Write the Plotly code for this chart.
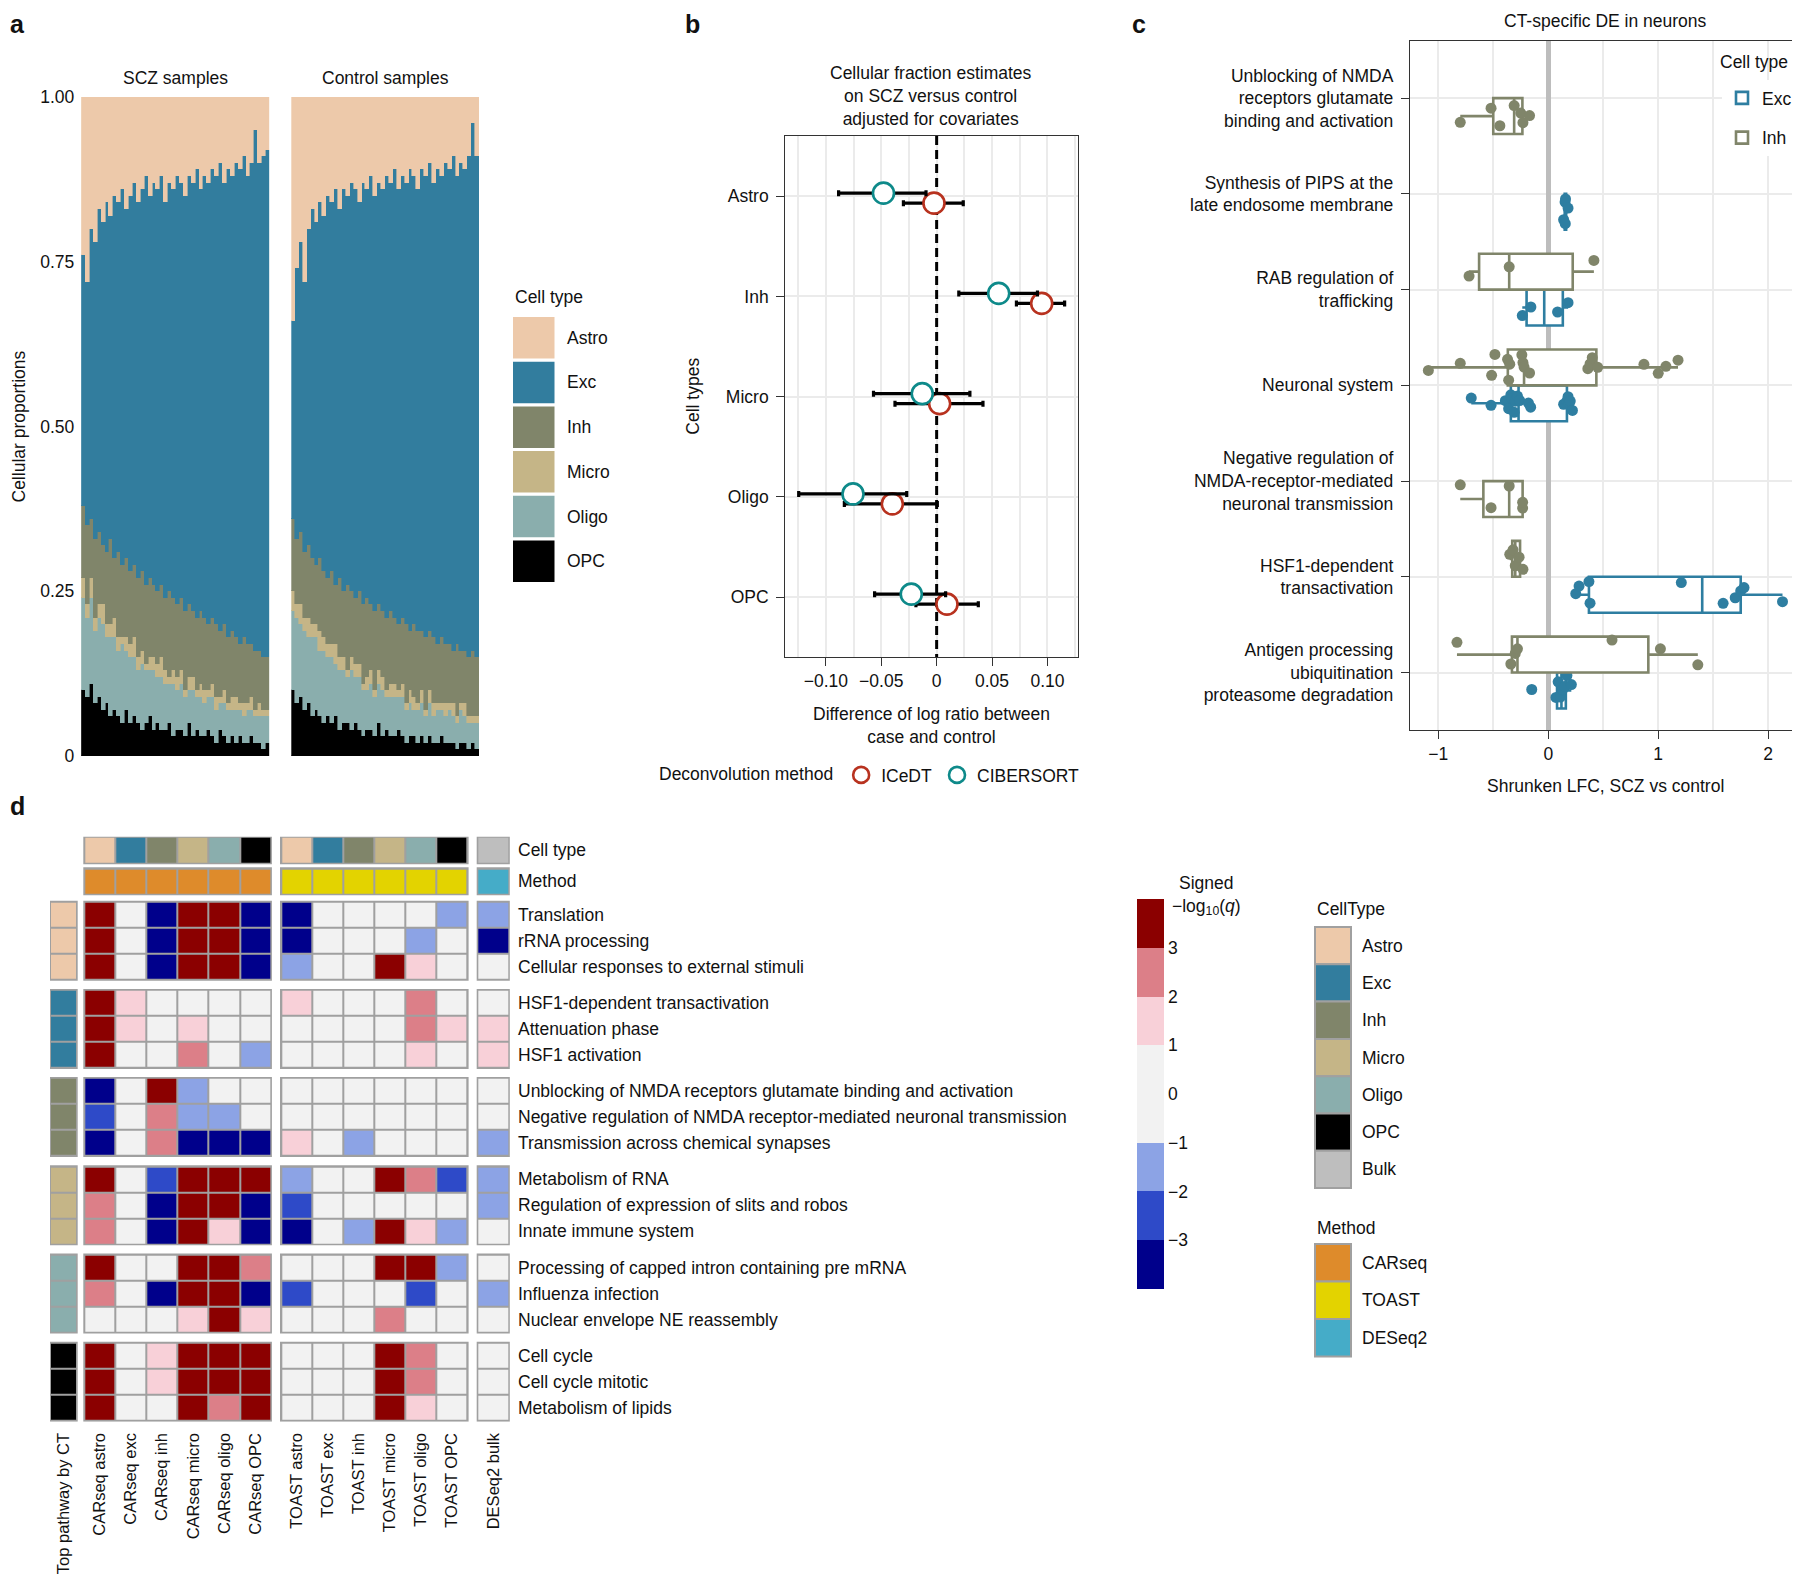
import plotly.graph_objects as go

OFF = 8                       # browser body margin (page px = figure px + 8)
FW, FH = 1800, 1586
FONT = "Liberation Sans, Arial, Helvetica, sans-serif"
INK = "#111111"
FS = 17.5


def fx(px):
    return (px - OFF) / FW


def fy(py):
    return 1 - (py - OFF) / FH


# ====================== Panel a data ======================
cell_types = ["Astro", "Exc", "Inh", "Micro", "Oligo", "OPC"]
ct_colors = ["#EDC9AA", "#327D9E", "#80856A", "#C5B587", "#8AAEAD", "#000000"]

scz_astro = [0.24, 0.28, 0.20, 0.22, 0.17, 0.19, 0.16, 0.18, 0.15, 0.16, 0.14, 0.17, 0.15, 0.13, 0.16, 0.14,
             0.12, 0.15, 0.13, 0.14, 0.12, 0.16, 0.13, 0.14, 0.12, 0.13, 0.15, 0.12, 0.13, 0.11, 0.14, 0.12,
             0.13, 0.11, 0.12, 0.10, 0.13, 0.11, 0.12, 0.10, 0.11, 0.09, 0.12, 0.10, 0.05, 0.10, 0.09, 0.08]
scz_inh = [0.11, 0.12, 0.09, 0.12, 0.11, 0.09, 0.11, 0.13, 0.09, 0.13, 0.11, 0.12, 0.11, 0.11, 0.12, 0.12,
           0.12, 0.12, 0.11, 0.11, 0.11, 0.11, 0.13, 0.11, 0.11, 0.11, 0.12, 0.11, 0.10, 0.11, 0.11, 0.11,
           0.10, 0.10, 0.11, 0.10, 0.10, 0.10, 0.10, 0.09, 0.09, 0.10, 0.09, 0.08, 0.09, 0.08, 0.08, 0.08]
scz_micro = [0.03, 0.02, 0.03, 0.02, 0.02, 0.03, 0.02, 0.02, 0.03, 0.02, 0.01, 0.02, 0.02, 0.03, 0.02, 0.02,
             0.01, 0.02, 0.02, 0.02, 0.03, 0.02, 0.01, 0.02, 0.02, 0.02, 0.01, 0.02, 0.02, 0.01, 0.02, 0.02,
             0.01, 0.02, 0.02, 0.01, 0.02, 0.01, 0.02, 0.02, 0.01, 0.02, 0.01, 0.02, 0.01, 0.02, 0.01, 0.01]
scz_oligo = [0.14, 0.12, 0.13, 0.11, 0.12, 0.13, 0.10, 0.12, 0.11, 0.10, 0.12, 0.09, 0.10, 0.09, 0.08, 0.10,
             0.08, 0.07, 0.09, 0.07, 0.08, 0.07, 0.06, 0.08, 0.06, 0.07, 0.06, 0.05, 0.07, 0.05, 0.06, 0.05,
             0.05, 0.06, 0.05, 0.04, 0.05, 0.05, 0.04, 0.05, 0.04, 0.04, 0.05, 0.04, 0.04, 0.04, 0.05, 0.04]
scz_opc = [0.10, 0.09, 0.11, 0.08, 0.09, 0.07, 0.08, 0.06, 0.07, 0.06, 0.05, 0.07, 0.05, 0.06, 0.05, 0.04,
           0.05, 0.06, 0.04, 0.05, 0.04, 0.04, 0.05, 0.03, 0.04, 0.04, 0.03, 0.05, 0.03, 0.04, 0.03, 0.03,
           0.04, 0.03, 0.02, 0.04, 0.03, 0.02, 0.03, 0.02, 0.03, 0.02, 0.02, 0.03, 0.02, 0.02, 0.01, 0.02]

ctl_astro = [0.34, 0.26, 0.22, 0.28, 0.20, 0.17, 0.19, 0.16, 0.18, 0.15, 0.16, 0.14, 0.17, 0.14, 0.15, 0.13,
             0.14, 0.16, 0.13, 0.14, 0.12, 0.15, 0.13, 0.14, 0.12, 0.13, 0.11, 0.14, 0.12, 0.13, 0.11, 0.12,
             0.14, 0.11, 0.12, 0.10, 0.13, 0.11, 0.12, 0.10, 0.11, 0.09, 0.12, 0.10, 0.11, 0.09, 0.04, 0.09]
ctl_inh = [0.11, 0.10, 0.11, 0.10, 0.11, 0.10, 0.09, 0.11, 0.10, 0.10, 0.11, 0.09, 0.12, 0.10, 0.13, 0.10,
           0.10, 0.11, 0.12, 0.12, 0.10, 0.12, 0.10, 0.10, 0.11, 0.11, 0.10, 0.10, 0.10, 0.12, 0.09, 0.11,
           0.11, 0.09, 0.11, 0.09, 0.10, 0.09, 0.10, 0.09, 0.09, 0.08, 0.11, 0.08, 0.08, 0.09, 0.10, 0.09]
ctl_micro = [0.03, 0.02, 0.03, 0.02, 0.03, 0.02, 0.02, 0.03, 0.02, 0.02, 0.02, 0.03, 0.02, 0.02, 0.01, 0.02,
             0.02, 0.02, 0.01, 0.02, 0.02, 0.01, 0.02, 0.02, 0.01, 0.02, 0.02, 0.01, 0.02, 0.01, 0.02, 0.02,
             0.01, 0.02, 0.01, 0.02, 0.02, 0.01, 0.01, 0.02, 0.01, 0.02, 0.01, 0.01, 0.02, 0.01, 0.01, 0.01]
ctl_oligo = [0.12, 0.13, 0.11, 0.12, 0.10, 0.12, 0.11, 0.10, 0.11, 0.09, 0.10, 0.08, 0.09, 0.08, 0.07, 0.09,
             0.07, 0.08, 0.07, 0.06, 0.07, 0.06, 0.06, 0.07, 0.05, 0.06, 0.06, 0.05, 0.06, 0.05, 0.05, 0.04,
             0.05, 0.05, 0.04, 0.05, 0.04, 0.05, 0.04, 0.04, 0.05, 0.04, 0.04, 0.05, 0.04, 0.04, 0.03, 0.04]
ctl_opc = [0.10, 0.08, 0.09, 0.07, 0.08, 0.06, 0.07, 0.06, 0.05, 0.06, 0.05, 0.06, 0.04, 0.05, 0.05, 0.04,
           0.05, 0.04, 0.03, 0.04, 0.04, 0.03, 0.05, 0.03, 0.04, 0.03, 0.03, 0.04, 0.03, 0.02, 0.03, 0.03,
           0.02, 0.03, 0.02, 0.03, 0.02, 0.02, 0.03, 0.02, 0.02, 0.02, 0.01, 0.02, 0.02, 0.01, 0.02, 0.01]


def remainder(*parts):
    return [round(1 - sum(v), 3) for v in zip(*parts)]


scz_exc = remainder(scz_astro, scz_inh, scz_micro, scz_oligo, scz_opc)
ctl_exc = remainder(ctl_astro, ctl_inh, ctl_micro, ctl_oligo, ctl_opc)

# ====================== Panel b data ======================
b_celltypes = ["Astro", "Inh", "Micro", "Oligo", "OPC"]
icedt_est = [-0.0024, 0.0948, 0.0027, -0.0400, 0.0093]
icedt_lo = [-0.0300, 0.0720, -0.0376, -0.0833, -0.0187]
icedt_hi = [0.0240, 0.1155, 0.0418, 0.0006, 0.0376]
cib_est = [-0.0480, 0.0560, -0.0130, -0.0755, -0.0229]
cib_lo = [-0.0885, 0.0200, -0.0570, -0.1245, -0.0560]
cib_hi = [-0.0096, 0.0910, 0.0300, -0.0270, 0.0081]

# ====================== Panel c data ======================
c_pathways = ["Unblocking of NMDA<br>receptors glutamate<br>binding and activation",
              "Synthesis of PIPS at the<br>late endosome membrane",
              "RAB regulation of<br>trafficking",
              "Neuronal system",
              "Negative regulation of<br>NMDA-receptor-mediated<br>neuronal transmission",
              "HSF1-dependent<br>transactivation",
              "Antigen processing<br>ubiquitination<br>proteasome degradation"]
c_unblock_inh = [-0.80, -0.52, -0.44, -0.31, -0.25, -0.23, -0.17]
c_pips_exc = [0.14, 0.153, 0.155, 0.157, 0.18]
c_rab_inh = [-0.72, -0.355, 0.415]
c_rab_exc = [-0.236, -0.158, 0.085, 0.18]
c_neuro_inh = [-1.09, -0.80, -0.515, -0.485, -0.37, -0.36, -0.35, -0.24, -0.23, -0.22, -0.17,
               0.36, 0.38, 0.40, 0.45, 0.87, 1.00, 1.07, 1.18]
c_neuro_exc = [-0.70, -0.52, -0.39, -0.36, -0.34, -0.33, -0.31, -0.30, -0.28, -0.26, -0.18, -0.16,
               0.14, 0.17, 0.18, 0.19, 0.20, 0.22]
c_negreg_inh = [-0.80, -0.52, -0.355, -0.233, -0.233]
c_hsf1_inh = [-0.35, -0.32, -0.30, -0.265, -0.23]
c_hsf1_exc = [0.25, 0.28, 0.37, 0.38, 1.21, 1.59, 1.70, 1.75, 1.78, 2.13]
c_antigen_inh = [-0.83, -0.34, -0.30, -0.28, 0.58, 1.02, 1.36]
c_antigen_exc = [-0.15, 0.07, 0.09, 0.11, 0.13, 0.15, 0.17, 0.21]
c_inh = [c_unblock_inh, [], c_rab_inh, c_neuro_inh, c_negreg_inh, c_hsf1_inh, c_antigen_inh]
c_exc = [[], c_pips_exc, c_rab_exc, c_neuro_exc, [], c_hsf1_exc, c_antigen_exc]

# ====================== Panel d data ======================
d_columns = ["CARseq astro", "CARseq exc", "CARseq inh", "CARseq micro", "CARseq oligo", "CARseq OPC",
             "TOAST astro", "TOAST exc", "TOAST inh", "TOAST micro", "TOAST oligo", "TOAST OPC",
             "DESeq2 bulk"]
d_col_celltype = ["Astro", "Exc", "Inh", "Micro", "Oligo", "OPC",
                  "Astro", "Exc", "Inh", "Micro", "Oligo", "OPC", "Bulk"]
d_col_method = ["CARseq"] * 6 + ["TOAST"] * 6 + ["DESeq2"]
d_group_celltype = ["Astro", "Exc", "Inh", "Micro", "Oligo", "OPC"]
d_pathways = ["Translation", "rRNA processing", "Cellular responses to external stimuli",
              "HSF1-dependent transactivation", "Attenuation phase", "HSF1 activation",
              "Unblocking of NMDA receptors glutamate binding and activation",
              "Negative regulation of NMDA receptor-mediated neuronal transmission",
              "Transmission across chemical synapses",
              "Metabolism of RNA", "Regulation of expression of slits and robos", "Innate immune system",
              "Processing of capped intron containing pre mRNA", "Influenza infection",
              "Nuclear envelope NE reassembly",
              "Cell cycle", "Cell cycle mitotic", "Metabolism of lipids"]
d_astro_rows = [[3.8, 0.2, -3.9, 3.7, 3.6, -3.8, -3.6, 0.3, -0.2, 0.4, -0.5, -1.4, -1.6],
                [3.7, 0.1, -3.8, 3.8, 3.5, -3.7, -3.5, 0.2, -0.3, 0.1, -1.5, 0.4, -3.6],
                [3.6, 0.3, -3.7, 3.6, 3.7, -3.6, -1.6, 0.1, 0.2, 3.4, 1.4, 0.3, 0.5]]
d_exc_rows = [[3.9, 1.5, 0.4, 0.6, 0.2, 0.3, 1.3, 0.2, 0.1, -0.3, 2.4, 0.5, 0.7],
              [3.8, 1.4, 0.3, 1.6, 0.5, 0.2, 0.6, 0.3, 0.2, 0.1, 2.6, 1.5, 1.3],
              [3.7, 0.6, 0.2, 2.5, 0.4, -1.4, 0.5, 0.1, 0.3, 0.2, 1.5, 0.4, 1.4]]
d_inh_rows = [[-3.6, 0.1, 3.5, -1.5, 0.3, -0.4, 0.2, -0.1, 0.3, 0.1, 0.4, 0.2, 0.3],
              [-2.6, 0.2, 2.4, -1.6, -1.3, -0.5, 0.1, 0.2, -0.3, 0.4, 0.1, 0.3, -0.2],
              [-3.7, 0.3, 2.5, -3.6, -3.8, -3.5, 1.3, 0.2, -1.5, 0.3, 0.5, 0.1, -1.4]]
d_micro_rows = [[3.8, 0.2, -2.6, 3.7, 3.6, 3.5, -1.5, 0.1, 0.4, 3.6, 2.5, -2.4, -1.5],
                [2.5, 0.3, -3.7, 3.8, 3.7, -3.6, -2.6, 0.2, 0.1, 0.5, 0.3, 0.2, -1.6],
                [2.4, 0.1, -3.6, 3.5, 1.5, -3.7, -3.8, 0.3, -1.4, 3.7, 1.6, -1.5, 0.2]]
d_oligo_rows = [[3.7, 0.2, 0.5, 3.8, 3.6, 2.5, 0.1, 0.4, 0.2, 3.5, 3.6, -1.6, 0.3],
                [2.6, 0.3, -3.8, 3.7, 3.8, -3.6, -2.5, 0.2, 0.1, 0.4, -2.6, 0.3, -1.4],
                [0.4, 0.2, 0.3, 1.5, 3.6, 1.4, 0.2, 0.1, 0.3, 2.5, 0.4, 0.2, 0.1]]
d_opc_rows = [[3.8, 0.1, 1.6, 3.7, 3.8, 3.6, 0.3, 0.2, 0.1, 3.7, 2.4, 0.5, 0.2],
              [3.7, 0.3, 1.5, 3.8, 3.7, 3.7, 0.2, 0.4, 0.2, 3.6, 2.5, 0.3, 0.1],
              [3.6, 0.2, 0.4, 3.7, 2.6, 3.5, 0.1, 0.3, 0.2, 3.8, 1.5, 0.2, 0.4]]
d_groups = [d_astro_rows, d_exc_rows, d_inh_rows, d_micro_rows, d_oligo_rows, d_opc_rows]
method_names = ["CARseq", "TOAST", "DESeq2"]
method_colors = ["#DE8B2B", "#E3D300", "#45ACC8"]
bulk_color = "#BEBEBE"
sig_colors = ["#00008B", "#2E4AC8", "#8CA3E5", "#F2F2F2", "#F8D0D8", "#DC7F88", "#8B0000"]
sig_breaks = [-4, -3, -2, -1, 1, 2, 3, 4]

fig = go.Figure()
shapes = []
annots = []


def ann(text, x, y, size=FS, xanchor="center", yanchor="middle", angle=0, bold=False, color=INK):
    annots.append(dict(text=("<b>%s</b>" % text) if bold else text, x=fx(x), y=fy(y), xref="paper",
                       yref="paper", showarrow=False, xanchor=xanchor, yanchor=yanchor, textangle=angle,
                       font=dict(family=FONT, size=size, color=color)))


# ====================== Panel a ======================
scz = dict(Astro=scz_astro, Exc=scz_exc, Inh=scz_inh, Micro=scz_micro, Oligo=scz_oligo, OPC=scz_opc)
ctl = dict(Astro=ctl_astro, Exc=ctl_exc, Inh=ctl_inh, Micro=ctl_micro, Oligo=ctl_oligo, OPC=ctl_opc)
stack_order = ["OPC", "Oligo", "Micro", "Inh", "Exc", "Astro"]
for xa, ya, grp in [("x", "y", scz), ("x2", "y2", ctl)]:
    for ct in stack_order:
        col = ct_colors[cell_types.index(ct)]
        fig.add_trace(go.Bar(x=list(range(len(grp[ct]))), y=grp[ct], xaxis=xa, yaxis=ya,
                             marker=dict(color=col, line=dict(width=0.6, color=col)),
                             showlegend=False, hoverinfo="skip"))

ann("SCZ samples", 175.3, 77.7)
ann("Control samples", 385.3, 77.7)
ann("Cellular proportions", 19, 426.5, angle=-90)
ann("Cell type", 513, 297, xanchor="left")
for i, ct in enumerate(cell_types):
    top = 317 + i * 44.7
    shapes.append(dict(type="rect", xref="paper", yref="paper", x0=fx(513), x1=fx(554.5), y0=fy(top + 41.5),
                       y1=fy(top), fillcolor=ct_colors[i], line=dict(width=0)))
    ann(ct, 565, top + 20.7, xanchor="left")

# ====================== Panel b ======================
b_pos = list(range(1, len(b_celltypes) + 1))
# reference line at zero (drawn first so that it lies under the points)
fig.add_trace(go.Scatter(x=[0, 0], y=[0.4, len(b_celltypes) + 0.6], mode="lines", xaxis="x3", yaxis="y3",
                         line=dict(color="black", width=3, dash="9px,5px"), showlegend=False, hoverinfo="skip"))
for name, est, lo, hi, col, off in [("ICeDT", icedt_est, icedt_lo, icedt_hi, "#B8321F", 0.07),
                                    ("CIBERSORT", cib_est, cib_lo, cib_hi, "#0E8A8A", -0.03)]:
    fig.add_trace(go.Scatter(
        x=est, y=[p + off for p in b_pos], mode="markers", name=name, xaxis="x3", yaxis="y3",
        marker=dict(symbol="circle", size=21, color="white", line=dict(color=col, width=2.6)),
        error_x=dict(type="data", symmetric=False, array=[h - e for h, e in zip(hi, est)],
                     arrayminus=[e - l for e, l in zip(est, lo)], color="black", thickness=3.2, width=3),
        legend="legend", hoverinfo="skip"))

ann("Cellular fraction estimates<br>on SCZ versus control<br>adjusted for covariates", 931.3, 96)
ann("Cell types", 693, 396.7, angle=-90)
ann("Difference of log ratio between<br>case and control", 931.3, 725.5)

# ====================== Panel c ======================
c_colors = {"Exc": "#2E7EA1", "Inh": "#80856A"}
for ct, series, other in [("Exc", c_exc, c_inh), ("Inh", c_inh, c_exc)]:
    xs, ys = [], []
    for k, vals in enumerate(series):
        if not vals:
            continue
        slot = 1 if (ct == "Exc" or not other[k]) else -1
        xs += vals
        ys += [k + 1 + slot * 0.1875] * len(vals)
    fig.add_trace(go.Box(
        x=xs, y=ys, orientation="h", name=ct, xaxis="x4", yaxis="y4", width=0.375,
        boxpoints="all", jitter=0.85, pointpos=0, whiskerwidth=0, fillcolor="white",
        line=dict(color=c_colors[ct], width=2.6), marker=dict(color=c_colors[ct], size=11, opacity=1),
        legend="legend2", legendgroup=ct, hoverinfo="skip"))
ann("CT-specific DE in neurons", 1605, 21)
ann("Shrunken LFC, SCZ vs control", 1605, 786)
ann("Cell type", 1718, 62, xanchor="left")

# ====================== Panel d ======================
UX, UY = 31.1, 26.0
TP = (0.0, 26.7)
CAR0, TOAST0, DES0 = 34.3, 231.0, 427.7
GROUP0, GPITCH = 65.0, 88.2
x_edges = [CAR0 + i * UX for i in range(7)] + [TOAST0 + i * UX for i in range(7)] + [DES0, DES0 + UX]
y_edges = []
for g in range(len(d_groups)):
    s = GROUP0 + g * GPITCH
    y_edges += [s + i * UY for i in range(4)]
y_edges_ann = [0.0, 26.6, 31.6, 57.6]


def split_row(vals):
    return list(vals[:6]) + [None] + list(vals[6:12]) + [None] + list(vals[12:])


z_main = []
for g, rows in enumerate(d_groups):
    for r in rows:
        z_main.append(split_row(r))
    if g < len(d_groups) - 1:
        z_main.append([None] * 15)
z_main_edges_y = y_edges[:len(z_main) + 1]


def discrete(colors, breaks=None):
    n = len(colors)
    if breaks is None:
        breaks = list(range(n + 1))
    lo, hi = breaks[0], breaks[-1]
    sc = []
    for i, c in enumerate(colors):
        sc.append([(breaks[i] - lo) / (hi - lo), c])
        sc.append([(breaks[i + 1] - lo) / (hi - lo), c])
    return sc


fig.add_trace(go.Heatmap(
    z=z_main, x=x_edges, y=z_main_edges_y, xaxis="x5", yaxis="y5", zmin=-4, zmax=4,
    colorscale=discrete(sig_colors, sig_breaks), xgap=2, ygap=2, hoverinfo="skip",
    colorbar=dict(x=fx(1137), xanchor="left", y=fy(1289), yanchor="bottom", len=390, lenmode="pixels",
                  thickness=27, thicknessmode="pixels", xpad=0, ypad=0, outlinewidth=0,
                  tickvals=[3, 2, 1, 0, -1, -2, -3],
                  ticktext=["3", "2", "1", "0", "\u22121", "\u22122", "\u22123"],
                  ticks="", tickfont=dict(family=FONT, size=FS, color=INK))))

ann_palette = [ct_colors[i] for i in range(6)] + [bulk_color] + method_colors
ann_cats = cell_types + ["Bulk"] + method_names
ct_row = [ann_cats.index(c) for c in d_col_celltype]
me_row = [ann_cats.index(m) for m in d_col_method]
fig.add_trace(go.Heatmap(
    z=[split_row(ct_row), [None] * 15, split_row(me_row)], x=x_edges, y=y_edges_ann, xaxis="x5", yaxis="y5",
    zmin=-0.5, zmax=len(ann_cats) - 0.5, colorscale=discrete(ann_palette), showscale=False,
    xgap=2, ygap=2, hoverinfo="skip"))

z_tp = []
for g, ct in enumerate(d_group_celltype):
    z_tp += [[cell_types.index(ct)]] * 3
    if g < len(d_groups) - 1:
        z_tp.append([None])
fig.add_trace(go.Heatmap(
    z=z_tp, x=list(TP), y=z_main_edges_y, xaxis="x5", yaxis="y5", zmin=-0.5, zmax=len(ann_cats) - 0.5,
    colorscale=discrete(ann_palette), showscale=False, xgap=2, ygap=2, hoverinfo="skip"))

# gray block borders
PAD = 1.0
col_blocks = [(CAR0, CAR0 + 6 * UX), (TOAST0, TOAST0 + 6 * UX), (DES0, DES0 + UX)]
row_blocks = [(0.0, 26.6), (31.6, 57.6)] + [(GROUP0 + g * GPITCH, GROUP0 + g * GPITCH + 3 * UY)
                                            for g in range(len(d_groups))]
for (xa0, xa1) in col_blocks:
    for (ya0, ya1) in row_blocks:
        shapes.append(dict(type="rect", xref="x5", yref="y5", x0=xa0 - PAD, x1=xa1 + PAD, y0=ya0 - PAD,
                           y1=ya1 + PAD, fillcolor="#A0A0A0", line=dict(width=0), layer="below"))
for (ya0, ya1) in row_blocks[2:]:
    shapes.append(dict(type="rect", xref="x5", yref="y5", x0=TP[0] - PAD, x1=TP[1] + PAD, y0=ya0 - PAD,
                       y1=ya1 + PAD, fillcolor="#A0A0A0", line=dict(width=0), layer="below"))

row_centers = [(y_edges_ann[0] + y_edges_ann[1]) / 2, (y_edges_ann[2] + y_edges_ann[3]) / 2]
for g in range(len(d_groups)):
    s = GROUP0 + g * GPITCH
    row_centers += [s + (i + 0.5) * UY for i in range(3)]
col_centers = [(TP[0] + TP[1]) / 2] + [(a + b) / 2 for a, b in zip(x_edges[:-1], x_edges[1:])
                                       if not (a == CAR0 + 6 * UX or a == TOAST0 + 6 * UX)]

# color key title
ann("Signed<br>\u2212log<sub>10</sub>(<i>q</i>)", 1170, 895, xanchor="left")
# CellType legend
ann("CellType", 1315, 909, xanchor="left")
for i, (name, col) in enumerate(zip(cell_types + ["Bulk"], [ct_colors[k] for k in range(6)] + [bulk_color])):
    top = 927 + i * 37.3
    shapes.append(dict(type="rect", xref="paper", yref="paper", x0=fx(1315), x1=fx(1351), y0=fy(top + 37.3),
                       y1=fy(top), fillcolor=col, line=dict(width=2, color="#A0A0A0")))
    ann(name, 1360, top + 18.6, xanchor="left")
ann("Method", 1315, 1228, xanchor="left")
for i, (name, col) in enumerate(zip(method_names, method_colors)):
    top = 1244 + i * 37.5
    shapes.append(dict(type="rect", xref="paper", yref="paper", x0=fx(1315), x1=fx(1351), y0=fy(top + 37.5),
                       y1=fy(top), fillcolor=col, line=dict(width=2, color="#A0A0A0")))
    ann(name, 1360, top + 18.7, xanchor="left")

# panel letters
ann("a", OFF, OFF, size=25, xanchor="left", yanchor="top", bold=True)
ann("b", 683, OFF, size=25, xanchor="left", yanchor="top", bold=True)
ann("c", 1130, OFF, size=25, xanchor="left", yanchor="top", bold=True)
ann("d", OFF, 806, size=25, xanchor="left", bold=True)

# ====================== layout ======================
tickfont = dict(family=FONT, size=FS, color=INK)
GRID = "#EBEBEB"
frame = dict(showline=True, mirror=True, linecolor="#333333", linewidth=1.3, ticks="outside", ticklen=8,
             tickwidth=1.2, tickcolor="#333333", tickfont=tickfont)
NOAM = dict(automargin=False)

fig.update_layout(
    template="none",
    width=FW, height=FH, autosize=False, margin=dict(l=0, r=0, t=0, b=0, pad=0),
    paper_bgcolor="white", plot_bgcolor="white",
    font=dict(family=FONT, size=FS, color=INK), barmode="stack", bargap=0, boxmode="overlay",
    shapes=shapes, annotations=annots,
    xaxis=dict(domain=[fx(81.3), fx(269.3)], range=[-0.5, 47.5], anchor="y", showticklabels=False,
               showgrid=False, zeroline=False, ticks="", showline=False, **NOAM),
    yaxis=dict(domain=[fy(756), fy(97)], range=[0, 1], anchor="x", tickvals=[0, 0.25, 0.5, 0.75, 1],
               ticktext=["0", "0.25", "0.50", "0.75", "1.00"], showgrid=False, zeroline=False, ticks="",
               showline=False, tickfont=tickfont, ticklabelstandoff=6, **NOAM),
    xaxis2=dict(domain=[fx(291.3), fx(479.3)], range=[-0.5, 47.5], anchor="y2", showticklabels=False,
                showgrid=False, zeroline=False, ticks="", showline=False, **NOAM),
    yaxis2=dict(domain=[fy(756), fy(97)], range=[0, 1], anchor="x2", showticklabels=False, showgrid=False,
                zeroline=False, ticks="", showline=False, **NOAM),
    xaxis3=dict(domain=[fx(785.3), fx(1077.7)], range=[-0.1366, 0.1273], anchor="y3",
                tickvals=[-0.1, -0.05, 0, 0.05, 0.1],
                ticktext=["\u22120.10", "\u22120.05", "0", "0.05", "0.10"], showgrid=True, gridcolor=GRID,
                gridwidth=2, zeroline=False,
                minor=dict(tickvals=[-0.125, -0.075, -0.025, 0.025, 0.075, 0.125], showgrid=True,
                           gridcolor=GRID, gridwidth=1.5, ticks=""), **frame, **NOAM),
    yaxis3=dict(domain=[fy(657.3), fy(136)], range=[5.6, 0.4], anchor="x3", tickvals=b_pos,
                ticktext=b_celltypes, showgrid=True, gridcolor=GRID, gridwidth=2, zeroline=False,
                ticklabelstandoff=4, **frame, **NOAM),
    xaxis4=dict(domain=[fx(1410), fx(1799)], range=[-1.257, 2.28], anchor="y4", tickvals=[-1, 0, 1, 2],
                ticktext=["\u22121", "0", "1", "2"], showgrid=True, gridcolor=GRID, gridwidth=2,
                minor=dict(tickvals=[-0.5, 0.5, 1.5], showgrid=True, gridcolor=GRID, gridwidth=1.5, ticks=""),
                zeroline=True, zerolinecolor="#BDBDBD", zerolinewidth=5, **frame, **NOAM),
    yaxis4=dict(domain=[fy(730), fy(40.7)], range=[7.6, 0.4], anchor="x4", tickvals=list(range(1, 8)),
                ticktext=c_pathways, showgrid=True, gridcolor=GRID, gridwidth=2, zeroline=False,
                ticklabelstandoff=4, **frame, **NOAM),
    xaxis5=dict(domain=[fx(50), fx(510)], range=[0, 460], anchor="y5", tickvals=col_centers,
                ticktext=["Top pathway by CT"] + d_columns, tickangle=-90, showgrid=False, zeroline=False,
                ticks="", showline=False, tickfont=dict(family=FONT, size=16.5, color=INK),
                ticklabelstandoff=7, **NOAM),
    yaxis5=dict(domain=[fy(1421.7), fy(836.7)], range=[585, 0], anchor="x5", side="right",
                tickvals=row_centers, ticktext=["Cell type", "Method"] + d_pathways, showgrid=False,
                zeroline=False, ticks="", showline=False, tickfont=tickfont, ticklabelstandoff=7, **NOAM),
    legend=dict(orientation="h", x=fx(657), xanchor="left", y=fy(775), yanchor="middle", traceorder="normal",
                title=dict(text="Deconvolution method", side="left", font=tickfont), font=tickfont,
                bgcolor="rgba(0,0,0,0)", itemwidth=30, borderwidth=0),
    legend2=dict(x=fx(1797), xanchor="right", y=fy(80), yanchor="top", traceorder="grouped",
                 font=tickfont, bgcolor="white", tracegroupgap=14, itemwidth=30, borderwidth=0),
)

fig.write_html("out.html")
